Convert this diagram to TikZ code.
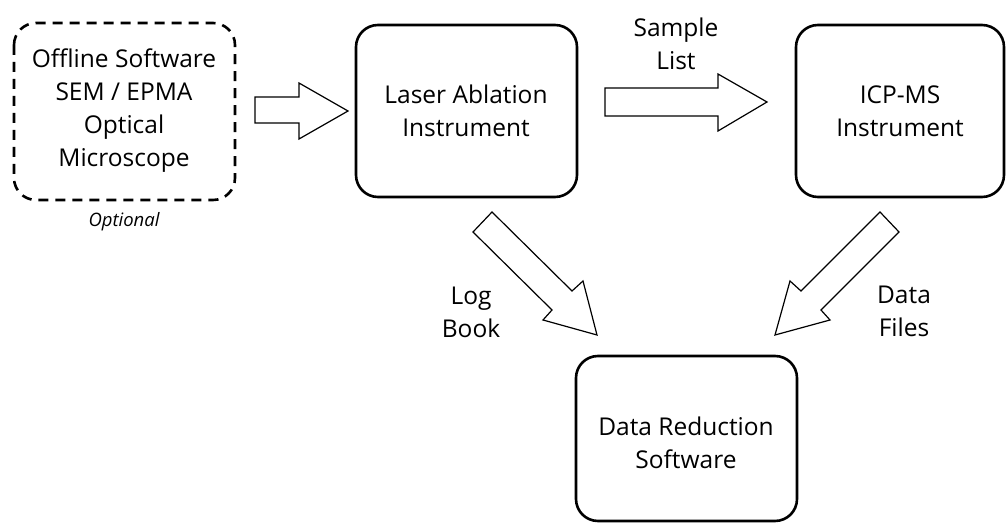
\documentclass[tikz,border=0pt]{standalone}
\usepackage{fontspec}
\setmainfont{Open Sans}
\begin{document}
\begin{tikzpicture}[x=1pt,y=-1pt,
  box/.style={draw,line width=2.6pt,rounded corners=22pt},
  optbox/.style={box,dashed,dash pattern=on 10pt off 7pt},
  lbl/.style={align=center,font=\fontsize{24.5}{33}\selectfont,inner sep=0pt},
  fat/.style={draw,line width=1.2pt,line join=miter,fill=white}]
\useasboundingbox (0,0) rectangle (1007,526);
% boxes
\draw[optbox] (14,23) rectangle (235,200);
\node[lbl] (opt) at (124,111) {Offline Software\\SEM / EPMA\\Optical\\Microscope};
\node[lbl,font=\fontsize{18.5}{22}\selectfont\itshape] (optional) at (124,222) {Optional};
\draw[box] (356,25) rectangle (577,197);
\node[lbl] (laser) at (466,111) {Laser Ablation\\Instrument};
\draw[box] (796,25) rectangle (1004,197);
\node[lbl] (icp) at (900,111) {ICP-MS\\Instrument};
\draw[box] (576,356) rectangle (797,521);
\node[lbl] (drs) at (686,443) {Data Reduction\\Software};
% arrows
\draw[fat] (255,97) -- (299,97) -- (299,83) -- (348,111) -- (299,139) -- (299,123) -- (255,123) -- cycle;
\draw[fat] (605,88) -- (718,88) -- (718,74) -- (767,102) -- (718,131) -- (718,116) -- (605,116) -- cycle;
\draw[fat] (492,212) -- (572,291) -- (583,281) -- (597,335) -- (543,320) -- (552,310) -- (473,232) -- cycle;
\draw[fat] (880,212) -- (801,291) -- (790,281) -- (775,335) -- (830,320) -- (821,310) -- (899,232) -- cycle;
% labels
\node[lbl] (sample) at (676,44) {Sample\\List};
\node[lbl] (log) at (471,312) {Log\\Book};
\node[lbl] (files) at (904,311) {Data\\Files};
\end{tikzpicture}
\end{document}
